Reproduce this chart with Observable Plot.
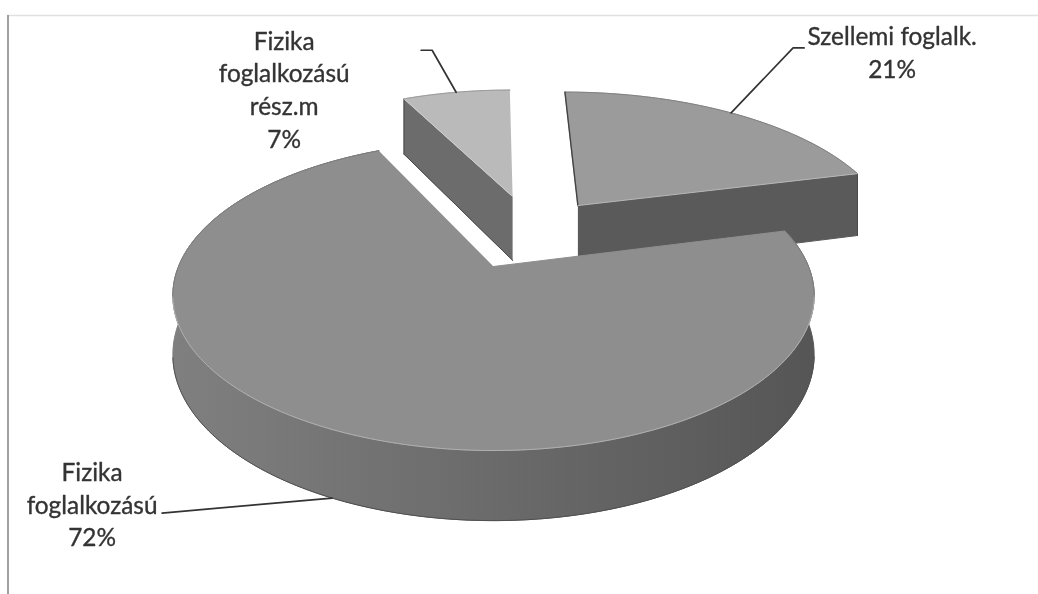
<!DOCTYPE html>
<html>
<head>
<meta charset="utf-8">
<script src="https://cdn.jsdelivr.net/npm/d3@7"></script>
<script src="https://cdn.jsdelivr.net/npm/@observablehq/plot@0.6"></script>
<style>
html,body{margin:0;padding:0;background:#fff;}
svg{display:block;}
</style>
</head>
<body>
<div id="chart"></div>
<script>
// Data (clockwise from twelve o'clock)
const categories = ["Szellemi foglalk.", "Fizika foglalkozású", "Fizika foglalkozású rész.m"];
const shares = [21, 72, 7];
const labels = ["Szellemi foglalk.\n21%", "Fizika\nfoglalkozású\n72%", "Fizika\nfoglalkozású\nrész.m\n7%"];

// Layout of the 3-D pie: camera, explosion and shading
const view = {cx: 493, cy: 266, rx: 315, ry: 149.6, k: 0.187};
const explodeU = [0.29, 0, 0.0665];
const explodeV = [0.441, 0, 0.513];
const radius = [1.05, 1, 1];
const depth = [70, 57, 70];
const topFill = ["#9b9b9b", "#8e8e8e", "#bababa"];
const sideFill = ["#5a5a5a", "#5f5f5f", "#6c6c6c"];
const wallLeft = "#7f7f7f", wallRight = "#565656";
// Label anchors relative to the leader's start on the slice's outer arc
const leaderElbow = [[62, -65], null, [-24, -42]];
const leaderTail = [[11, 0], [-170, 15], [-11, 0]];
const labelOffset = [[161, 3], [-240, 5], [-172, 38]];

function project(u, v, d = 0) {
  const w = 1 + view.k * v;
  return {x: view.cx + view.rx * u / w, y: view.cy - (view.ry * v - d) / w};
}

const arcs = d3.pie().sort(null).value(d => d)(shares);
const rim = (i, a, d = 0) => project(
  explodeU[i] + radius[i] * Math.sin(a),
  explodeV[i] + radius[i] * Math.cos(a),
  d
);
const apex = (i, d = 0) => project(explodeU[i], explodeV[i], d);
const sweep = (arc, n = 120) => d3.range(n + 1).map(j => arc.startAngle + (arc.endAngle - arc.startAngle) * j / n);

const polys = [];
const edges = [];
let id = 0;
const addPoly = (pts, fill) => { id++; pts.forEach(p => polys.push({...p, id, fill})); };
const addEdge = (pts, stroke, width) => { id++; pts.forEach(p => edges.push({...p, id, stroke, width})); };

// Exploded slices first, the big one last so it covers their lower edges.
[0, 2, 1].forEach(i => {
  const arc = arcs[i], as = sweep(arc), d = depth[i];
  if (i === 1) {
    addPoly([...as.map(a => rim(i, a)), ...as.slice().reverse().map(a => rim(i, a, d))], "url(#wallShade)");
  } else {
    // The cut face that looks at the viewer
    const a = i === 0 ? arc.endAngle : arc.startAngle;
    addPoly([apex(i), rim(i, a), rim(i, a, d), apex(i, d)], sideFill[i]);
  }
  addPoly([apex(i), ...as.map(a => rim(i, a))], topFill[i]);
});

// Outlines, only where they can be seen
const deg = Math.PI / 180;
const main = sweep(arcs[1], 240);
const front = main.filter(a => a > 101 * deg && a < 259 * deg);
const szellemi = sweep(arcs[0]), resz = sweep(arcs[2]);
addEdge([rim(0, arcs[0].endAngle), rim(0, arcs[0].endAngle, depth[0])], "#4a4a4a", 1);
addEdge([rim(2, arcs[2].startAngle), rim(2, arcs[2].startAngle, depth[2])], "#4a4a4a", 1);
addEdge([rim(2, arcs[2].startAngle, depth[2]), apex(2, depth[2])], "#4a4a4a", 1);
addEdge(szellemi.map(a => rim(0, a)), "#777777", 0.8);
addEdge(resz.map(a => rim(2, a)), "#8a8a8a", 0.8);
addEdge([apex(0), rim(0, arcs[0].startAngle)], "#444444", 1.4);
addEdge([apex(0), rim(0, arcs[0].endAngle)], "#b8b8b8", 1);
addEdge([apex(2), rim(2, arcs[2].startAngle)], "#d0d0d0", 1);
addEdge(front.map(a => rim(1, a, depth[1])), "#4f4f4f", 1);
addEdge(front.map(a => rim(1, a)), "#b0b0b0", 1);
addEdge(main.filter(a => a >= 259 * deg).map(a => rim(1, a)), "#777777", 0.8);
addEdge(main.filter(a => a <= 101 * deg).map(a => rim(1, a)), "#777777", 0.8);

// Leaders and labels hang off each slice's mid-arc point
const leaders = [];
const texts = [];
arcs.forEach((arc, i) => {
  const mid = (arc.startAngle + arc.endAngle) / 2;
  const s = rim(i, mid, i === 1 ? depth[i] : 0);
  const pts = [s];
  const el = leaderElbow[i];
  const e = el ? {x: s.x + el[0], y: s.y + el[1]} : s;
  if (el) pts.push(e);
  pts.push({x: e.x + leaderTail[i][0], y: e.y + leaderTail[i][1]});
  pts.forEach(p => leaders.push({...p, i}));
  texts.push({x: s.x + labelOffset[i][0], y: (el ? e.y : s.y) + labelOffset[i][1], text: labels[i]});
});

const frameLeft = [{x: 7.5, y1: 15, y2: 594}];
const frameTop = [{y: 15, x1: 7, x2: 1038}];

// The main slice's outer wall darkens from left to right
const wallGradient = () => {
  const defs = d3.create("svg:defs");
  const g = defs.append("linearGradient")
    .attr("id", "wallShade")
    .attr("gradientUnits", "userSpaceOnUse")
    .attr("x1", view.cx - view.rx).attr("x2", view.cx + view.rx)
    .attr("y1", 0).attr("y2", 0);
  g.append("stop").attr("offset", "0%").attr("stop-color", wallLeft);
  g.append("stop").attr("offset", "100%").attr("stop-color", wallRight);
  return defs.node();
};

const chart = Plot.plot({
  width: 1038,
  height: 594,
  margin: 0,
  style: {background: "#fff", filter: "blur(0.45px)"},
  x: {domain: [0, 1038], range: [0, 1038], axis: null},
  y: {domain: [0, 594], range: [0, 594], axis: null},
  color: {type: "identity"},
  marks: [
    wallGradient,
    Plot.ruleY(frameTop, {y: "y", x1: "x1", x2: "x2", stroke: "#e0e0e0", strokeWidth: 1.5}),
    Plot.ruleX(frameLeft, {x: "x", y1: "y1", y2: "y2", stroke: "#a0a0a0", strokeWidth: 2}),
    Plot.line(polys, {x: "x", y: "y", z: "id", fill: "fill", stroke: "fill", strokeWidth: 1, curve: "linear"}),
    Plot.line(edges, {x: "x", y: "y", z: "id", stroke: "stroke", strokeWidth: "width", curve: "linear"}),
    Plot.line(leaders, {x: "x", y: "y", z: "i", stroke: "#333333", strokeWidth: 1.7, curve: "linear"}),
    Plot.text(texts, {x: "x", y: "y", text: "text", fontFamily: "Lato", fontSize: 24.4, lineHeight: 1.34, fill: "#333333", stroke: "#333333", strokeWidth: 0.35, textAnchor: "middle", lineAnchor: "middle"})
  ]
});
document.getElementById("chart").appendChild(chart);
</script>
</body>
</html>
